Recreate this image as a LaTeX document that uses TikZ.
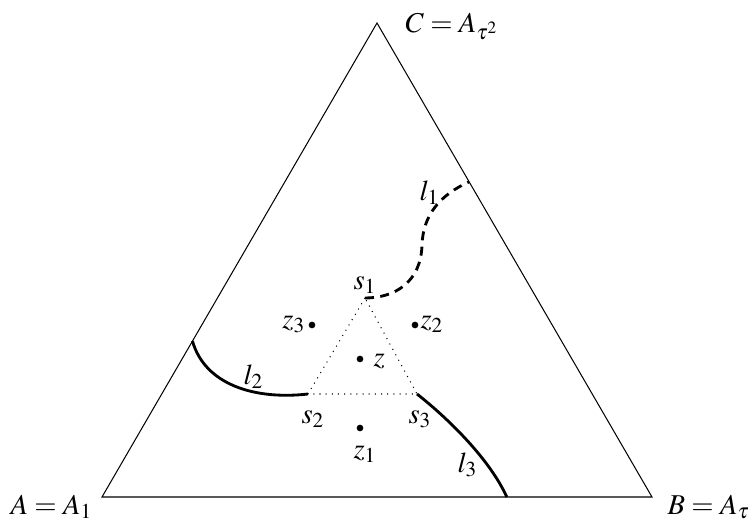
\documentclass[tikz,border=0pt]{standalone}
\usepackage{mathptmx}
\usetikzlibrary{calc}

\begin{document}
\begin{tikzpicture}[
    x=0.0137cm, y=-0.0137cm,
    font=\fontsize{11.2}{13.5}\selectfont,
    side/.style={line width=0.4pt},
    route/.style={line width=1.1pt},
    dot/.style={circle, fill=black, inner sep=0pt, minimum size=2.6pt},
    lab/.style={inner sep=0pt, anchor=base west},
]
\useasboundingbox (0,0) rectangle (754,521);

% ---- Outer triangle ----
\coordinate (A) at (102,497);
\coordinate (B) at (652,497);
\coordinate (C) at (377,23);
\draw[side] (A) -- (B) -- (C) -- cycle;

\node[lab] (Alab) at (10,514) {$A=A_1$};
\node[lab] (Blab) at (667,514) {$B=A_\tau$};
\node[lab] (Clab) at (405,32) {$C=A_{\tau^2}$};

% ---- Inner (dotted) triangle ----
\coordinate (s1) at (365,298);
\coordinate (s2) at (308,394);
\coordinate (s3) at (417,394);
\draw[dotted] (s1) -- (s2) -- (s3) -- cycle;

\node[lab] (s1lab) at (353,289) {$s_1$};
\node[lab] (s2lab) at (301,423) {$s_2$};
\node[lab] (s3lab) at (408,423) {$s_3$};

% ---- Points ----
\node[dot] (z)  at (360,359) {};
\node[dot] (z1) at (360,428) {};
\node[dot] (z2) at (415,325) {};
\node[dot] (z3) at (312,325) {};

\node[lab] (zlab)  at (373,366) {$z$};
\node[lab] (z1lab) at (353,458) {$z_1$};
\node[lab] (z2lab) at (420,328) {$z_2$};
\node[lab, anchor=base east] (z3lab) at (306,328) {$z_3$};

% ---- Lines l1, l2, l3 ----
\coordinate (e1) at ($(C)!0.335!(B)$);
\coordinate (e2) at ($(A)!0.329!(C)$);
\coordinate (e3) at ($(A)!0.736!(B)$);

\draw[route, dash pattern=on 3.5pt off 2.5pt] (s1)
    .. controls (395,298) and (421,282) .. (422,245)
    .. controls (423,215) and (440,195) .. (e1);
\draw[route] (e2) .. controls (205,385) and (255,400) .. (s2);
\draw[route] (s3) .. controls (450,420) and (490,460) .. (e3);

\node[lab] (l1lab) at (419,200) {$l_1$};
\node[lab] (l2lab) at (243,384) {$l_2$};
\node[lab] (l3lab) at (457,472) {$l_3$};

\end{tikzpicture}
\end{document}
